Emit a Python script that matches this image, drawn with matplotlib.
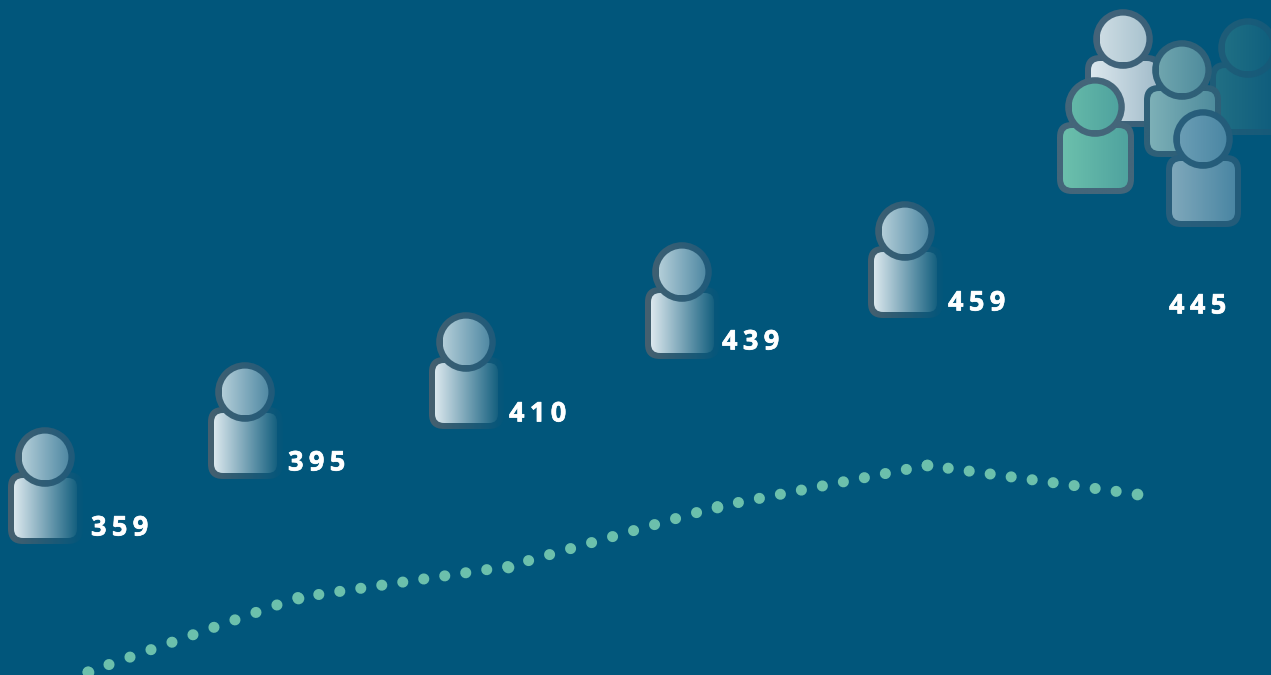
import numpy as np
import matplotlib
matplotlib.use('Agg')
import matplotlib.pyplot as plt
from matplotlib.colors import LinearSegmentedColormap
from matplotlib.patches import Circle, FancyBboxPatch
import matplotlib.patheffects as pe

plt.rcParams['font.family'] = ['Open Sans', 'DejaVu Sans']
plt.rcParams['lines.scale_dashes'] = False

W, H = 1271, 675
BG = '#01567b'
DOT = '#6cc0ac'

values = [359, 395, 410, 439, 459, 445]
label_x = [91, 288, 509, 722, 948, 1169]
label_y = [528.5, 463.5, 414.5, 342.5, 303.5, 306.5]

# head centre of the people along the trend
head_x = [45, 245, 466, 682, 905]
head_y = [457, 392, 342, 272, 231]

# crowd at the end: head x, head y, body left, body right, body top, body bottom
crowd_dark = (1248, 48, 1210, 1290, 62, 135)
crowd_white = (1123, 39, 1085, 1162, 55, 127)
crowd_mid = (1182, 70, 1144, 1221, 85, 157)
crowd_green = (1095, 107, 1057, 1134, 122, 194)
crowd_blue = (1203, 139, 1166, 1241, 155, 227)

fig = plt.figure(figsize=(W / 100, H / 100), dpi=100, facecolor=BG)

# value axis for the dotted trend
ax_line = fig.add_axes([0, 0, 1, 1])
ax_line.set_xlim(-88 / 209.8, (W - 88) / 209.8)
ax_line.set_ylim(359 - 3 / 2.067, 359 + 672 / 2.067)
ax_line.axis('off')

# pixel axis for the icons and labels
ax = fig.add_axes([0, 0, 1, 1])
ax.set_xlim(0, W)
ax.set_ylim(H, 0)
ax.axis('off')

layer = [2]


def gradient(left, right, x0, x1, y0, y1, clip):
    cmap = LinearSegmentedColormap.from_list('g', [left, right])
    ramp = np.linspace(0, 1, 256).reshape(1, -1)
    layer[0] += 1
    im = ax.imshow(ramp, cmap=cmap, extent=(x0, x1, y1, y0), aspect='auto',
                   interpolation='bilinear', vmin=0, vmax=1, zorder=layer[0])
    im.set_clip_path(clip)


def round_box(x0, x1, y0, y1, r):
    return FancyBboxPatch((x0 + r, y0 + r), x1 - x0 - 2 * r, y1 - y0 - 2 * r,
                          boxstyle=f'round,pad={r},rounding_size={r}',
                          transform=ax.transData)


def person(hx, hy, bx0, bx1, by0, by1, body, head, stroke, head_stroke, r_out=29.8, r_in=23.4, sw=6):
    gradient(stroke[0], stroke[1], bx0, bx1, by0, by1, round_box(bx0, bx1, by0, by1, 15))
    gradient(body[0], body[1], bx0 + sw, bx1 - sw, by0 + sw, by1 - sw,
             round_box(bx0 + sw, bx1 - sw, by0 + sw, by1 - sw, 9))
    gradient(head_stroke[0], head_stroke[1], hx - r_out, hx + r_out, hy - r_out, hy + r_out,
             Circle((hx, hy), r_out, transform=ax.transData))
    gradient(head[0], head[1], hx - r_in, hx + r_in, hy - r_in, hy + r_in,
             Circle((hx, hy), r_in, transform=ax.transData))


for hx, hy in zip(head_x, head_y):
    person(hx, hy, hx - 37, hx + 38, hy + 15, hy + 87,
           ('#dce8ee', '#15607f'), ('#b3ced8', '#4f88a3'), ('#47606f', '#03567b'), ('#3f6072', '#1f5a7a'))

person(*crowd_dark, ('#216f84', '#0c5a7c'), ('#1f6f84', '#0f5f7e'), ('#1f5d78', '#145a7a'), ('#1f5d78', '#145a7a'))
person(*crowd_white, ('#dde8ee', '#a3bdcb'), ('#cddce3', '#a9c3cf'), ('#44647a', '#365f78'), ('#44647a', '#3a6078'))
person(*crowd_mid, ('#7db0b7', '#4f8c9d'), ('#6fa5ae', '#4f8c9d'), ('#2f6078', '#2f6078'), ('#2f6078', '#2f6078'))
person(*crowd_green, ('#6cc0ac', '#4fa39f'), ('#64b8a8', '#4fa39f'), ('#44667a', '#44667a'), ('#44667a', '#44667a'))
person(*crowd_blue, ('#7fa8bb', '#4a86a3'), ('#6a9db4', '#4b87a4'), ('#2a5f7c', '#235c7a'), ('#2a5f7c', '#235c7a'))

# dotted trend, ten dots between each pair of values
xs = np.arange(len(values))
for i in range(len(values) - 1):
    p0, p1 = ax_line.transData.transform([(xs[i], values[i]), (xs[i + 1], values[i + 1])])
    period = np.hypot(*(p1 - p0)) / 10 * 72 / fig.dpi
    ax_line.plot(xs[i:i + 2], values[i:i + 2], color=DOT, lw=8.0,
                 linestyle=(0, (0.01, period)), dash_capstyle='round')
# the dash pattern stops short of the segment ends, so the values get their own dot
ax_line.plot(xs, values, 'o', color=DOT, ms=8.4, mew=0)

for v, x, y in zip(values, label_x, label_y):
    ax.text(x, y, '\u2009'.join(str(v)), color='white', fontsize=19.5, fontweight='bold',
            ha='left', va='center', zorder=500,
            path_effects=[pe.withStroke(linewidth=0.5, foreground='white')])

ax.set_xlim(0, W)
ax.set_ylim(H, 0)
fig.savefig('out.png', dpi=100, facecolor=BG)
